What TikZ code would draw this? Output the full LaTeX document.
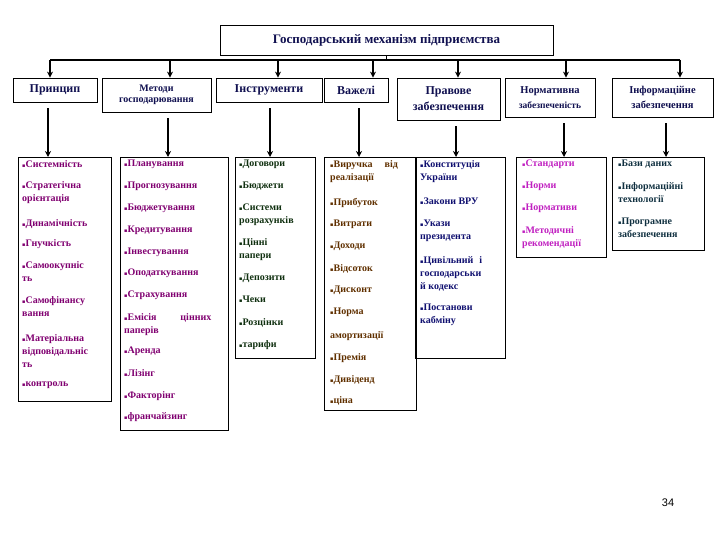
\documentclass[tikz,border=0pt]{standalone}
\usepackage{fontspec}
\setmainfont{Liberation Serif}
\setsansfont{Liberation Sans}
\newfontfamily\djfont{DejaVu Sans}
\newcommand{\bl}{{\djfont\fontsize{5}{5}\selectfont ▪}}
\usetikzlibrary{arrows.meta}
\definecolor{hd}{HTML}{101050}
\definecolor{cp}{HTML}{800070}
\definecolor{cg}{HTML}{103010}
\definecolor{cb}{HTML}{603000}
\definecolor{cn}{HTML}{101070}
\definecolor{cm}{HTML}{C020C0}
\definecolor{ct}{HTML}{103040}
\tikzset{
 hbox/.style={draw,line width=0.8pt,fill=white,inner sep=1pt,font=\bfseries\fontsize{12}{14}\selectfont,text=hd,align=center},
 lbox/.style={draw,line width=0.8pt,anchor=north west,inner sep=0pt},
 itm/.style={anchor=north west,inner sep=0pt,align=left,font=\bfseries\fontsize{10}{13}\selectfont},
 arr/.style={line width=1.6pt,-{Stealth[length=6pt,width=6pt]}},
}
\begin{document}
\begin{tikzpicture}[x=1pt,y=-1pt]
\useasboundingbox (0,0) rectangle (720,540);
% title
\node[hbox,minimum width=333,minimum height=30,font=\bfseries\fontsize{13}{15}\selectfont] (top) at (386.5,40) {Господарський механізм підприємства};
\coordinate (tb) at (386.5,60);
\coordinate (lft) at (50,60);
\coordinate (rgt) at (680,60);
\draw[line width=1.2pt] (top.south) -- (tb);
\draw[line width=1.2pt] (lft) -- (rgt);
% headers
\node[hbox,minimum width=84,minimum height=24] (h1) at (55,90) {Принцип};
\node[hbox,minimum width=109,minimum height=34,font=\bfseries\fontsize{10}{11}\selectfont] (h2) at (156.5,95) {Методи\\господарювання};
\node[hbox,minimum width=106,minimum height=24] (h3) at (269,90) {Інструменти};
\node[hbox,minimum width=64,minimum height=24] (h4) at (356,90) {Важелі};
\node[hbox,minimum width=103,minimum height=42,font=\bfseries\fontsize{12}{16}\selectfont] (h5) at (448.5,99) {Правове\\забезпечення};
\node[hbox,minimum width=90,minimum height=39,font=\bfseries\fontsize{10.5}{15}\selectfont] (h6) at (550,97.5) {Нормативна\\{\fontsize{9.5}{15}\selectfont забезпеченість}};
\node[hbox,minimum width=101,minimum height=39,font=\bfseries\fontsize{10.5}{15}\selectfont] (h7) at (662.5,97.5) {Інформаційне\\забезпечення};
% lower boxes
\node[lbox,minimum width=93,minimum height=244] (b1) at (18,157) {};
\node[lbox,minimum width=108,minimum height=273] (b2) at (120,157) {};
\node[lbox,minimum width=80,minimum height=201] (b3) at (235,157) {};
\node[lbox,minimum width=92,minimum height=253] (b4) at (324,157) {};
\node[lbox,minimum width=90,minimum height=201] (b5) at (415,157) {};
\node[lbox,minimum width=90,minimum height=100] (b6) at (516,157) {};
\node[lbox,minimum width=92,minimum height=93] (b7) at (612,157) {};
% arrows
\foreach \h/\b/\x/\xb in {h1/b1/50/48,h2/b2/170/168,h3/b3/278/270,h4/b4/373/359,h5/b5/458/456,h6/b6/566/564,h7/b7/680/666}{
  \coordinate (a\h) at (\x,60);
  \draw[arr] (a\h) -- (a\h |- \h.north);
  \coordinate (c\b) at (\xb,0);
  \draw[arr,shorten <=6pt] (c\b |- \h.south) -- (c\b |- \b.north);
}
% column 1
\begin{scope}[every node/.style={itm,text=cp}]
\node (p1) at (22,160) {\bl Системність};
\node (p2) at (22,181) {\bl Стратегічна\\орієнтація};
\node (p3) at (22,219) {\bl Динамічність};
\node (p4) at (22,239) {\bl Гнучкість};
\node (p5) at (22,261) {\bl Самоокупніс\\ть};
\node (p6) at (22,296) {\bl Самофінансу\\вання};
\node (p7) at (22,334) {\bl Матеріальна\\відповідальніс\\ть};
\node (p8) at (22,382) {\bl контроль};
\end{scope}
% column 2
\begin{scope}[every node/.style={itm,text=cp}]
\node (m1) at (124,160) {\bl Планування};
\node (m2) at (124,182) {\bl Прогнозування};
\node (m3) at (124,204) {\bl Бюджетування};
\node (m4) at (124,226) {\bl Кредитування};
\node (m5) at (124,248) {\bl Інвестування};
\node (m6) at (124,269) {\bl Оподаткування};
\node (m7) at (124,291) {\bl Страхування};
\node (m8) at (124,313) {\bl Емісія\hspace{24pt}цінних\\паперів};
\node (m9) at (124,347) {\bl Аренда};
\node (m10) at (124,369) {\bl Лізінг};
\node (m11) at (124,391) {\bl Факторінг};
\node (m12) at (124,412) {\bl франчайзинг};
\end{scope}
% column 3
\begin{scope}[every node/.style={itm,text=cg}]
\node (n1) at (239,160) {\bl Договори};
\node (n2) at (239,182) {\bl Бюджети};
\node (n3) at (239,204) {\bl Системи\\розрахунків};
\node (n4) at (239,238) {\bl Цінні\\папери};
\node (n5) at (239,274) {\bl Депозити};
\node (n6) at (239,296) {\bl Чеки};
\node (n7) at (239,318) {\bl Розцінки};
\node (n8) at (239,340) {\bl тарифи};
\end{scope}
% column 4
\begin{scope}[every node/.style={itm,text=cb}]
\node (v1) at (330,160) {\bl Виручка\hspace{12pt}від\\реалізації};
\node (v2) at (330,198) {\bl Прибуток};
\node (v3) at (330,220) {\bl Витрати};
\node (v4) at (330,242) {\bl Доходи};
\node (v5) at (330,264) {\bl Відсоток};
\node (v6) at (330,286) {\bl Дисконт};
\node (v7) at (330,308) {\bl Норма};
\node (v8) at (330,331) {амортизації};
\node (v9) at (330,353) {\bl Премія};
\node (v10) at (330,375) {\bl Дивіденд};
\node (v11) at (330,396) {\bl ціна};
\end{scope}
% column 5
\begin{scope}[every node/.style={itm,text=cn}]
\node (z1) at (420,160) {\bl Конституція\\України};
\node (z2) at (420,198) {\bl Закони ВРУ};
\node (z3) at (420,220) {\bl Укази\\президента};
\node (z4) at (420,256) {\bl Цивільний\hspace{6pt}і\\господарськи\\й кодекс};
\node (z5) at (420,304) {\bl Постанови\\кабміну};
\end{scope}
% column 6
\begin{scope}[every node/.style={itm,text=cm}]
\node (s1) at (522,160) {\bl Стандарти};
\node (s2) at (522,182) {\bl Норми};
\node (s3) at (522,204) {\bl Нормативи};
\node (s4) at (522,226) {\bl Методичні\\рекомендації};
\end{scope}
% column 7
\begin{scope}[every node/.style={itm,text=ct}]
\node (f1) at (618,160) {\bl Бази даних};
\node (f2) at (618,182) {\bl Інформаційні\\технології};
\node (f3) at (618,218) {\bl Програмне\\забезпечення};
\end{scope}
\node[font=\sffamily\fontsize{11}{13}\selectfont] (pg) at (668,503) {34};
\end{tikzpicture}
\end{document}
